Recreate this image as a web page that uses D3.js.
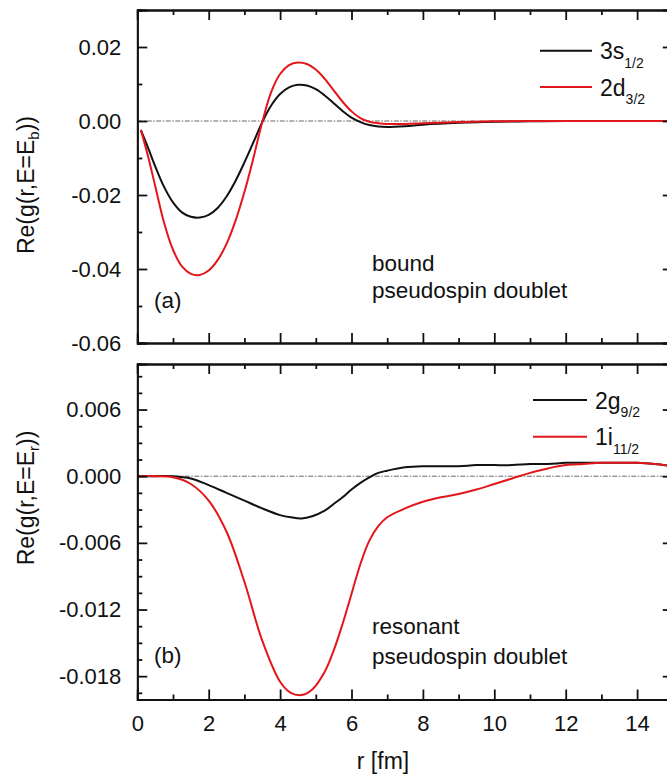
<!DOCTYPE html>
<html><head><meta charset="utf-8">
<script src="https://cdn.jsdelivr.net/npm/d3@7"></script>
<style>body{margin:0;background:#fff}svg{display:block}text{font-family:"Liberation Sans",Arial,sans-serif;fill:#111}</style>
</head><body><svg id="c" width="667" height="775"></svg>
<script>
// ---- data: panel (a) bound pseudospin doublet
const rBound = [0.1,0.3,0.5,0.75,1,1.25,1.5,1.75,2,2.25,2.5,2.75,3,3.25,3.5,3.75,4,4.25,4.5,4.75,5,5.25,5.5,5.75,6,6.25,6.5,6.75,7,7.5,8,9,10,11,12,13,14,15];
const s3Values = [-0.0025,-0.0072,-0.0122,-0.0178,-0.0220,-0.0247,-0.0259,-0.0261,-0.0254,-0.0235,-0.0204,-0.0162,-0.0112,-0.0058,-0.0003,0.0042,0.0073,0.0091,0.0098,0.0096,0.0086,0.0069,0.0048,0.0027,0.0009,-0.0003,-0.0011,-0.0015,-0.0016,-0.0014,-0.0010,-0.0005,-0.0002,-0.0001,0,0,0,0];
const d2Values = [-0.0024,-0.0095,-0.0175,-0.0275,-0.0348,-0.0393,-0.0413,-0.0416,-0.0404,-0.0376,-0.0332,-0.0270,-0.0192,-0.0101,-0.0003,0.0078,0.0127,0.0151,0.0158,0.0154,0.0139,0.0114,0.0083,0.0052,0.0026,0.0008,-0.0002,-0.0006,-0.0008,-0.0008,-0.0006,-0.0003,-0.0001,0,0,0,0,0];
// ---- data: panel (b) resonant pseudospin doublet
const rRes = [0,0.5,1,1.5,2,2.5,3,3.5,4,4.3,4.6,4.9,5.25,5.5,5.75,6,6.25,6.5,6.75,7,7.5,8,8.5,9,9.5,10,10.5,11,11.5,12,12.5,13,13.5,14,14.5,15];
const g2Values = [0,0,0,-0.0002,-0.0008,-0.0015,-0.0022,-0.0029,-0.0035,-0.0037,-0.0038,-0.0036,-0.0031,-0.0025,-0.0019,-0.0012,-0.0006,-0.0001,0.0003,0.0005,0.0008,0.0009,0.0009,0.0009,0.0010,0.0010,0.0010,0.0011,0.0011,0.0012,0.0012,0.0012,0.0012,0.0012,0.0011,0.0009];
const i1Values = [0,0,-0.0001,-0.0007,-0.0022,-0.0050,-0.0095,-0.0148,-0.0185,-0.0195,-0.0197,-0.0192,-0.0176,-0.0157,-0.0133,-0.0106,-0.0079,-0.0058,-0.0045,-0.0037,-0.0029,-0.0023,-0.0019,-0.0016,-0.0012,-0.0007,-0.0002,0.0003,0.0007,0.0010,0.0011,0.0012,0.0012,0.0012,0.0011,0.0009];
// ---- ticks
const xMajor = [0,2,4,6,8,10,12,14];
const xMajorLabels = ["0","2","4","6","8","10","12","14"];
const xMinor = [1,3,5,7,9,11,13,15];
const yaMajor = [0.02,0,-0.02,-0.04,-0.06];
const yaLabels = ["0.02","0.00","-0.02","-0.04","-0.06"];
const yaMinor = [0.03,0.01,-0.01,-0.03,-0.05];
const ybMajor = [0.006,0,-0.006,-0.012,-0.018];
const ybLabels = ["0.006","0.000","-0.006","-0.012","-0.018"];
const ybMinor = [0.009,0.0075,0.0045,0.003,0.0015,-0.0015,-0.003,-0.0045,-0.0075,-0.009,-0.0105,-0.0135,-0.015,-0.0165,-0.0195];

const RED = "#e3161b";
const svg = d3.select("#c");
const x = d3.scaleLinear().domain([0,15]).range([137.3,672.8]);

function panel(o){
  const y = d3.scaleLinear().domain(o.dom).range([o.bottom,o.top]);
  const g = svg.append("g");
  g.append("line").attr("x1",x(0)).attr("x2",x(15)).attr("y1",y(0)).attr("y2",y(0))
    .attr("stroke","#666").attr("stroke-width",1).attr("stroke-dasharray","5,1.5,1.5,1.5");
  const line = d3.line().x(d=>x(d[0])).y(d=>y(d[1])).curve(d3.curveCatmullRom.alpha(0.5));
  o.series.forEach(s=>{
    g.append("path").datum(o.r.map((v,i)=>[v,s.v[i]])).attr("d",line)
      .attr("fill","none").attr("stroke",s.c).attr("stroke-width",2);
  });
  const ax = (gen, tx, ty) => g.append("g").attr("transform",`translate(${tx},${ty})`).call(gen);
  const style = sel => { sel.selectAll("path,line").attr("stroke","#111").attr("stroke-width",1.8);
    sel.selectAll("text").attr("font-size",22).attr("font-family","Liberation Sans, Arial, sans-serif").attr("fill","#111"); };
  style(ax(d3.axisLeft(y).tickValues(o.yMajor).tickSize(-10).tickPadding(16).tickFormat((d,i)=>o.yLabels[i]), x(0),0));
  style(ax(d3.axisLeft(y).tickValues(o.yMinor).tickSize(-5).tickFormat(""), x(0),0));
  style(ax(d3.axisRight(y).tickValues(o.yMajor).tickSize(-10).tickFormat(""), x(15),0));
  style(ax(d3.axisRight(y).tickValues(o.yMinor).tickSize(-5).tickFormat(""), x(15),0));
  style(ax(d3.axisTop(x).tickValues(xMajor).tickSize(-10).tickFormat(""), 0,o.top));
  style(ax(d3.axisTop(x).tickValues(xMinor).tickSize(-5).tickFormat(""), 0,o.top));
  style(ax(d3.axisBottom(x).tickValues(xMajor).tickSize(-10).tickPadding(15.5).tickFormat((d,i)=>o.xLabels?xMajorLabels[i]:""), 0,o.bottom));
  style(ax(d3.axisBottom(x).tickValues(xMinor).tickSize(-5).tickFormat(""), 0,o.bottom));
  return y;
}

panel({dom:[-0.06,0.03],top:10,bottom:343,r:rBound,
  series:[{v:s3Values,c:"#111"},{v:d2Values,c:RED}],yMajor:yaMajor,yLabels:yaLabels,yMinor:yaMinor,xLabels:false});
panel({dom:[-0.0201,0.0101],top:364,bottom:699.5,r:rRes,
  series:[{v:g2Values,c:"#111"},{v:i1Values,c:RED}],yMajor:ybMajor,yLabels:ybLabels,yMinor:ybMinor,xLabels:true});

function ytitle(cy, sub){
  const t = svg.append("text").attr("transform",`translate(34,${cy}) rotate(-90)`).attr("text-anchor","middle").attr("font-size",23);
  t.append("tspan").text("Re(g(r,E=E");
  t.append("tspan").attr("font-size",15).attr("dy",5).text(sub);
  t.append("tspan").attr("dy",-5).text("))");
}
ytitle(185,"b");
ytitle(498,"r");
svg.append("text").attr("x",383).attr("y",769).attr("text-anchor","middle").attr("font-size",23).text("r [fm]");

function legend(x1,x2,ly,main,sub,c){
  svg.append("line").attr("x1",x1).attr("x2",x2).attr("y1",ly).attr("y2",ly).attr("stroke",c).attr("stroke-width",2);
  const t = svg.append("text").attr("x",x2+8).attr("y",ly+8.5).attr("font-size",23);
  t.append("tspan").text(main);
  t.append("tspan").attr("font-size",14).attr("dy",8.5).text(sub);
}
legend(540,592,50.7,"3s","1/2","#111");
legend(540,592,87,"2d","3/2",RED);
legend(533,587,400,"2g","9/2","#111");
legend(533,587,436.7,"1i","11/2",RED);

const ann = (tx,ty,s)=>svg.append("text").attr("x",tx).attr("y",ty).attr("font-size",22.5).text(s);
ann(372,271,"bound");
ann(372,298,"pseudospin doublet");
ann(154,308,"(a)");
ann(372,634,"resonant");
ann(372,664,"pseudospin doublet");
ann(154,663,"(b)");
</script></body></html>
